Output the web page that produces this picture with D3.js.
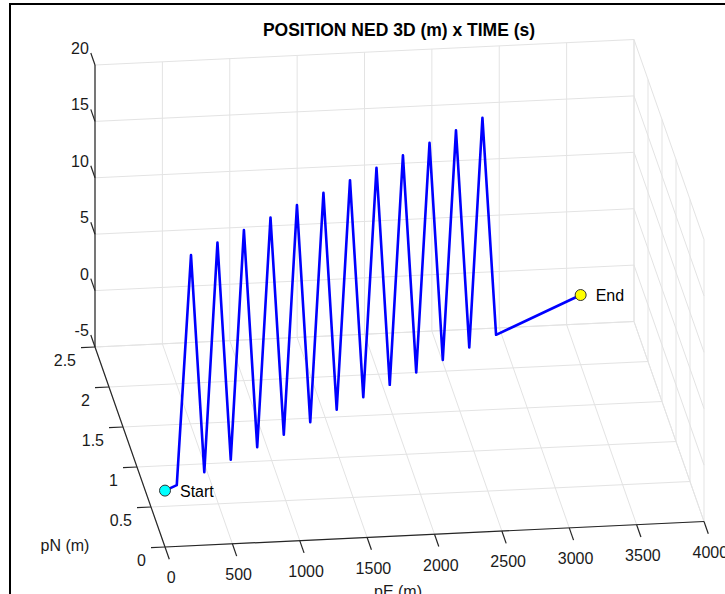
<!DOCTYPE html>
<html>
<head>
<meta charset="utf-8">
<script src="https://cdn.jsdelivr.net/npm/d3@7"></script>
<style>
  body { margin: 0; background: #fff; }
  svg { display: block; font-family: "Liberation Sans", Arial, sans-serif; }
</style>
</head>
<body>
<div id="graf3d"></div>
<script>
// datos de la trayectoria
const pE = [0, 100, 221, 334, 446, 559, 671, 784, 897, 1010, 1122, 1235, 1347, 1460,
  1573, 1686, 1798, 1911, 2023, 2136, 2249, 2362, 2474, 2587, 2699, 2815, 3534];
const pN = [0, 0.061, 0.135, 0.204, 0.273, 0.342, 0.411, 0.48, 0.549, 0.618, 0.687, 0.756,
  0.824, 0.894, 0.963, 1.032, 1.1, 1.17, 1.238, 1.307, 1.376, 1.446, 1.514, 1.583, 1.652, 1.723, 2.163];
const alt = [0, 0, 19.8, 0, 19.8, 0, 19.8, 0, 19.8, 0, 19.8, 0, 19.8, 0,
  19.8, 0, 19.8, 0, 19.8, 0, 19.8, 0, 19.8, 0, 19.8, 0, 0];

const xTicks = [0, 500, 1000, 1500, 2000, 2500, 3000, 3500, 4000];
const yTicks = [0, 0.5, 1, 1.5, 2, 2.5];
const zTicks = [-5, 0, 5, 10, 15, 20];

const marcas = [
  { nombre: "Start", i: 0, color: "#00ffff" },
  { nombre: "End", i: pE.length - 1, color: "#ffff00" }
];

const width = 725, height = 594;

const svg = d3.select("#graf3d")
  .append("svg")
  .attr("width", width)
  .attr("height", height);

// escaladores: cada eje a 0..1 dentro de la caja
const xS = d3.scaleLinear().domain([0, 4000]).range([0, 1]);
const yS = d3.scaleLinear().domain([0, 2.5]).range([0, 1]);
const zS = d3.scaleLinear().domain([-5, 20]).range([0, 1]);

// esquina (0,0,-5) y aristas de la caja en pantalla
const origen = [165, 547];
const ejeX = [539, -25.5];
const ejeY = [-70, -200];
const ejeZ = [0, -282];

const proy = (x, y, z) => {
  const u = xS(x), v = yS(y), w = zS(z);
  return [
    origen[0] + u * ejeX[0] + v * ejeY[0] + w * ejeZ[0],
    origen[1] + u * ejeX[1] + v * ejeY[1] + w * ejeZ[1]
  ];
};

const unit = (v) => { const l = Math.hypot(v[0], v[1]); return [v[0] / l, v[1] / l]; };
const linea = d3.line();

// marco negro de la figura
svg.append("path")
  .attr("d", "M10,595 L10,4 L725,4")
  .attr("fill", "none")
  .attr("stroke", "#000")
  .attr("stroke-width", 2);

// titulo
svg.append("text")
  .attr("x", 399)
  .attr("y", 36)
  .attr("text-anchor", "middle")
  .attr("font-size", 17.5)
  .attr("font-weight", "bold")
  .attr("fill", "#000")
  .text("POSITION NED 3D (m) x TIME (s)");

// grid en los tres planos del fondo
const grid = [];
xTicks.forEach((t) => {
  grid.push([[t, 2.5, -5], [t, 2.5, 20]]);
  grid.push([[t, 0, -5], [t, 2.5, -5]]);
});
yTicks.forEach((t) => {
  grid.push([[0, t, -5], [4000, t, -5]]);
  grid.push([[4000, t, -5], [4000, t, 20]]);
});
zTicks.forEach((t) => {
  grid.push([[0, 2.5, t], [4000, 2.5, t]]);
  grid.push([[4000, 0, t], [4000, 2.5, t]]);
});

svg.append("g")
  .selectAll("path")
  .data(grid)
  .join("path")
  .attr("d", (d) => linea(d.map((p) => proy(...p))))
  .attr("fill", "none")
  .attr("stroke", "#e3e3e3")
  .attr("stroke-width", 1);

// ejes
const ejes = [
  [[0, 0, -5], [4000, 0, -5]],
  [[0, 0, -5], [0, 2.5, -5]],
  [[0, 2.5, -5], [0, 2.5, 20]]
];
svg.append("g")
  .selectAll("path")
  .data(ejes)
  .join("path")
  .attr("d", (d) => linea(d.map((p) => proy(...p))))
  .attr("fill", "none")
  .attr("stroke", "#262626")
  .attr("stroke-width", 1.2);

// ticks y etiquetas
const dirX = unit([-ejeY[0], -ejeY[1]]);
const dirY = unit([-ejeX[0], -ejeX[1]]);
const dirZ = unit(ejeY);
const gTicks = svg.append("g").attr("stroke", "#262626").attr("stroke-width", 1.2);
const gLab = svg.append("g").attr("font-size", 16).attr("fill", "#1a1a1a");

xTicks.forEach((t) => {
  const p = proy(t, 0, -5);
  const q = [p[0] + dirX[0] * 13, p[1] + dirX[1] * 13];
  gTicks.append("line").attr("x1", p[0]).attr("y1", p[1]).attr("x2", q[0]).attr("y2", q[1]);
  gLab.append("text")
    .attr("x", q[0] + 2)
    .attr("y", q[1] + 24)
    .attr("text-anchor", "middle")
    .text(t);
});

yTicks.forEach((t) => {
  const p = proy(0, t, -5);
  const q = [p[0] + dirY[0] * 14, p[1] + dirY[1] * 14];
  gTicks.append("line").attr("x1", p[0]).attr("y1", p[1]).attr("x2", q[0]).attr("y2", q[1]);
  gLab.append("text")
    .attr("x", q[0] - 5)
    .attr("y", q[1] + 18)
    .attr("text-anchor", "end")
    .text(t);
});

zTicks.forEach((t) => {
  const p = proy(0, 2.5, t);
  const q = [p[0] + dirZ[0] * 12.7, p[1] + dirZ[1] * 12.7];
  gTicks.append("line").attr("x1", p[0]).attr("y1", p[1]).attr("x2", q[0]).attr("y2", q[1]);
  gLab.append("text")
    .attr("x", q[0] - 2)
    .attr("y", q[1] + 1)
    .attr("text-anchor", "end")
    .text(t);
});

// nombres de ejes
gLab.append("text")
  .attr("x", 398)
  .attr("y", 597)
  .attr("text-anchor", "middle")
  .text("pE (m)");
gLab.append("text")
  .attr("x", 65)
  .attr("y", 551)
  .attr("text-anchor", "middle")
  .text("pN (m)");

// trayectoria
const puntos = pE.map((d, i) => proy(d, pN[i], alt[i]));
svg.append("path")
  .attr("d", linea(puntos))
  .attr("fill", "none")
  .attr("stroke", "#0000ff")
  .attr("stroke-width", 2.6)
  .attr("stroke-linejoin", "round");

// marcadores inicio / fin
const gM = svg.append("g");
gM.selectAll("circle")
  .data(marcas)
  .join("circle")
  .attr("cx", (d) => puntos[d.i][0])
  .attr("cy", (d) => puntos[d.i][1])
  .attr("r", 5.5)
  .attr("fill", (d) => d.color)
  .attr("stroke", "#333")
  .attr("stroke-width", 1);

gM.selectAll("text")
  .data(marcas)
  .join("text")
  .attr("x", (d) => puntos[d.i][0] + 15)
  .attr("y", (d) => puntos[d.i][1] + 6)
  .attr("font-size", 16)
  .attr("fill", "#000")
  .text((d) => d.nombre);
</script>
</body>
</html>
